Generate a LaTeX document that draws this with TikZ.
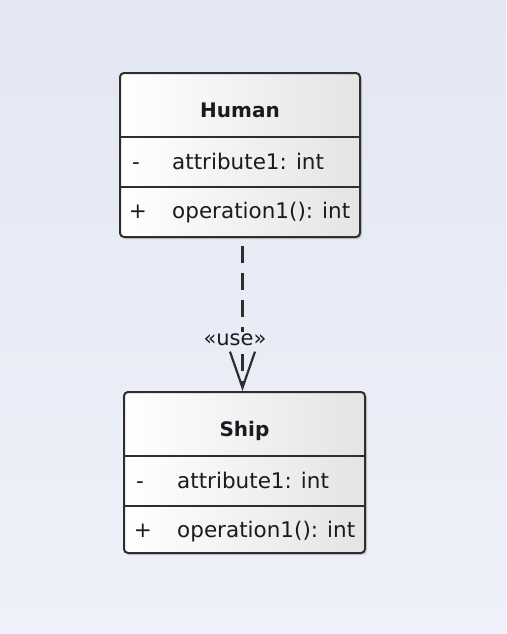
\documentclass[tikz,border=0pt]{standalone}
\usepackage{fontspec}
\setmainfont{DejaVu Sans}
\usetikzlibrary{arrows.meta,shadows,calc}
\definecolor{bgtop}{HTML}{E3E7F3}
\definecolor{bgbot}{HTML}{EEF1F9}
\definecolor{bgmid}{HTML}{EAEDF6}
\definecolor{edge}{HTML}{2E2E2E}
\definecolor{txt}{HTML}{1A1A20}
\definecolor{boxright}{HTML}{E4E4E4}
\tikzset{
  umlbox/.style={draw=edge, line width=2pt, rounded corners=4pt,
    left color=white, right color=boxright,
    drop shadow={shadow xshift=2pt, shadow yshift=-2pt, opacity=0.3},
    inner sep=0pt},
  divider/.style={draw=edge, line width=1.8pt},
  titletext/.style={font=\fontsize{20}{24}\selectfont\bfseries, text=txt, anchor=base, inner sep=0pt},
  membertext/.style={font=\fontsize{21.5}{24}\selectfont, text=txt, anchor=base west, inner sep=0pt},
  vistext/.style={font=\fontsize{21.5}{24}\selectfont, text=txt, anchor=base, inner sep=0pt},
  deptext/.style={font=\fontsize{21}{24}\selectfont, text=txt, fill=bgmid, inner sep=2pt},
  dep/.style={draw=edge, line width=2.4pt, dash pattern=on 17pt off 10pt, dash phase=19pt,
    -{Straight Barb[length=36pt, width=25pt, line width=2.2pt]}}
}
\begin{document}
\begin{tikzpicture}[x=1pt, y=-1pt]
\shade[top color=bgtop, bottom color=bgbot] (0,0) rectangle (506,634);
\useasboundingbox (0,0) rectangle (506,634);

% Human
\node[umlbox, minimum width=240pt, minimum height=164pt] (human) at (240,155) {};
\draw[divider] (120,137) coordinate (h1l) -- (360,137) coordinate (h1r);
\draw[divider] (120,187) coordinate (h2l) -- (360,187) coordinate (h2r);
\node[titletext] (htitle) at (240,117) {Human};
\node[vistext] (hvis1) at (136,169) {-};
\node[membertext] (hattr) at (172,169) {attribute1: int};
\node[vistext] (hvis2) at (138,218) {+};
\node[membertext] (hop) at (172,218) {operation1(): int};

% Ship
\node[umlbox, minimum width=241pt, minimum height=161pt] (ship) at (244.5,472.5) {};
\draw[divider] (124,456) coordinate (s1l) -- (365,456) coordinate (s1r);
\draw[divider] (124,506) coordinate (s2l) -- (365,506) coordinate (s2r);
\node[titletext] (stitle) at (244.5,436) {Ship};
\node[vistext] (svis1) at (140,488) {-};
\node[membertext] (sattr) at (177,488) {attribute1: int};
\node[vistext] (svis2) at (143,537) {+};
\node[membertext] (sop) at (177,537) {operation1(): int};

% dependency
\coordinate (dstart) at ([xshift=-2pt]human.south -| ship.north);
\coordinate (dend) at ([xshift=-2pt]ship.north);
\draw[dep] (dstart) -- (dend);
\node[deptext] (uselabel) at (235,340) {«use»};
\end{tikzpicture}
\end{document}
